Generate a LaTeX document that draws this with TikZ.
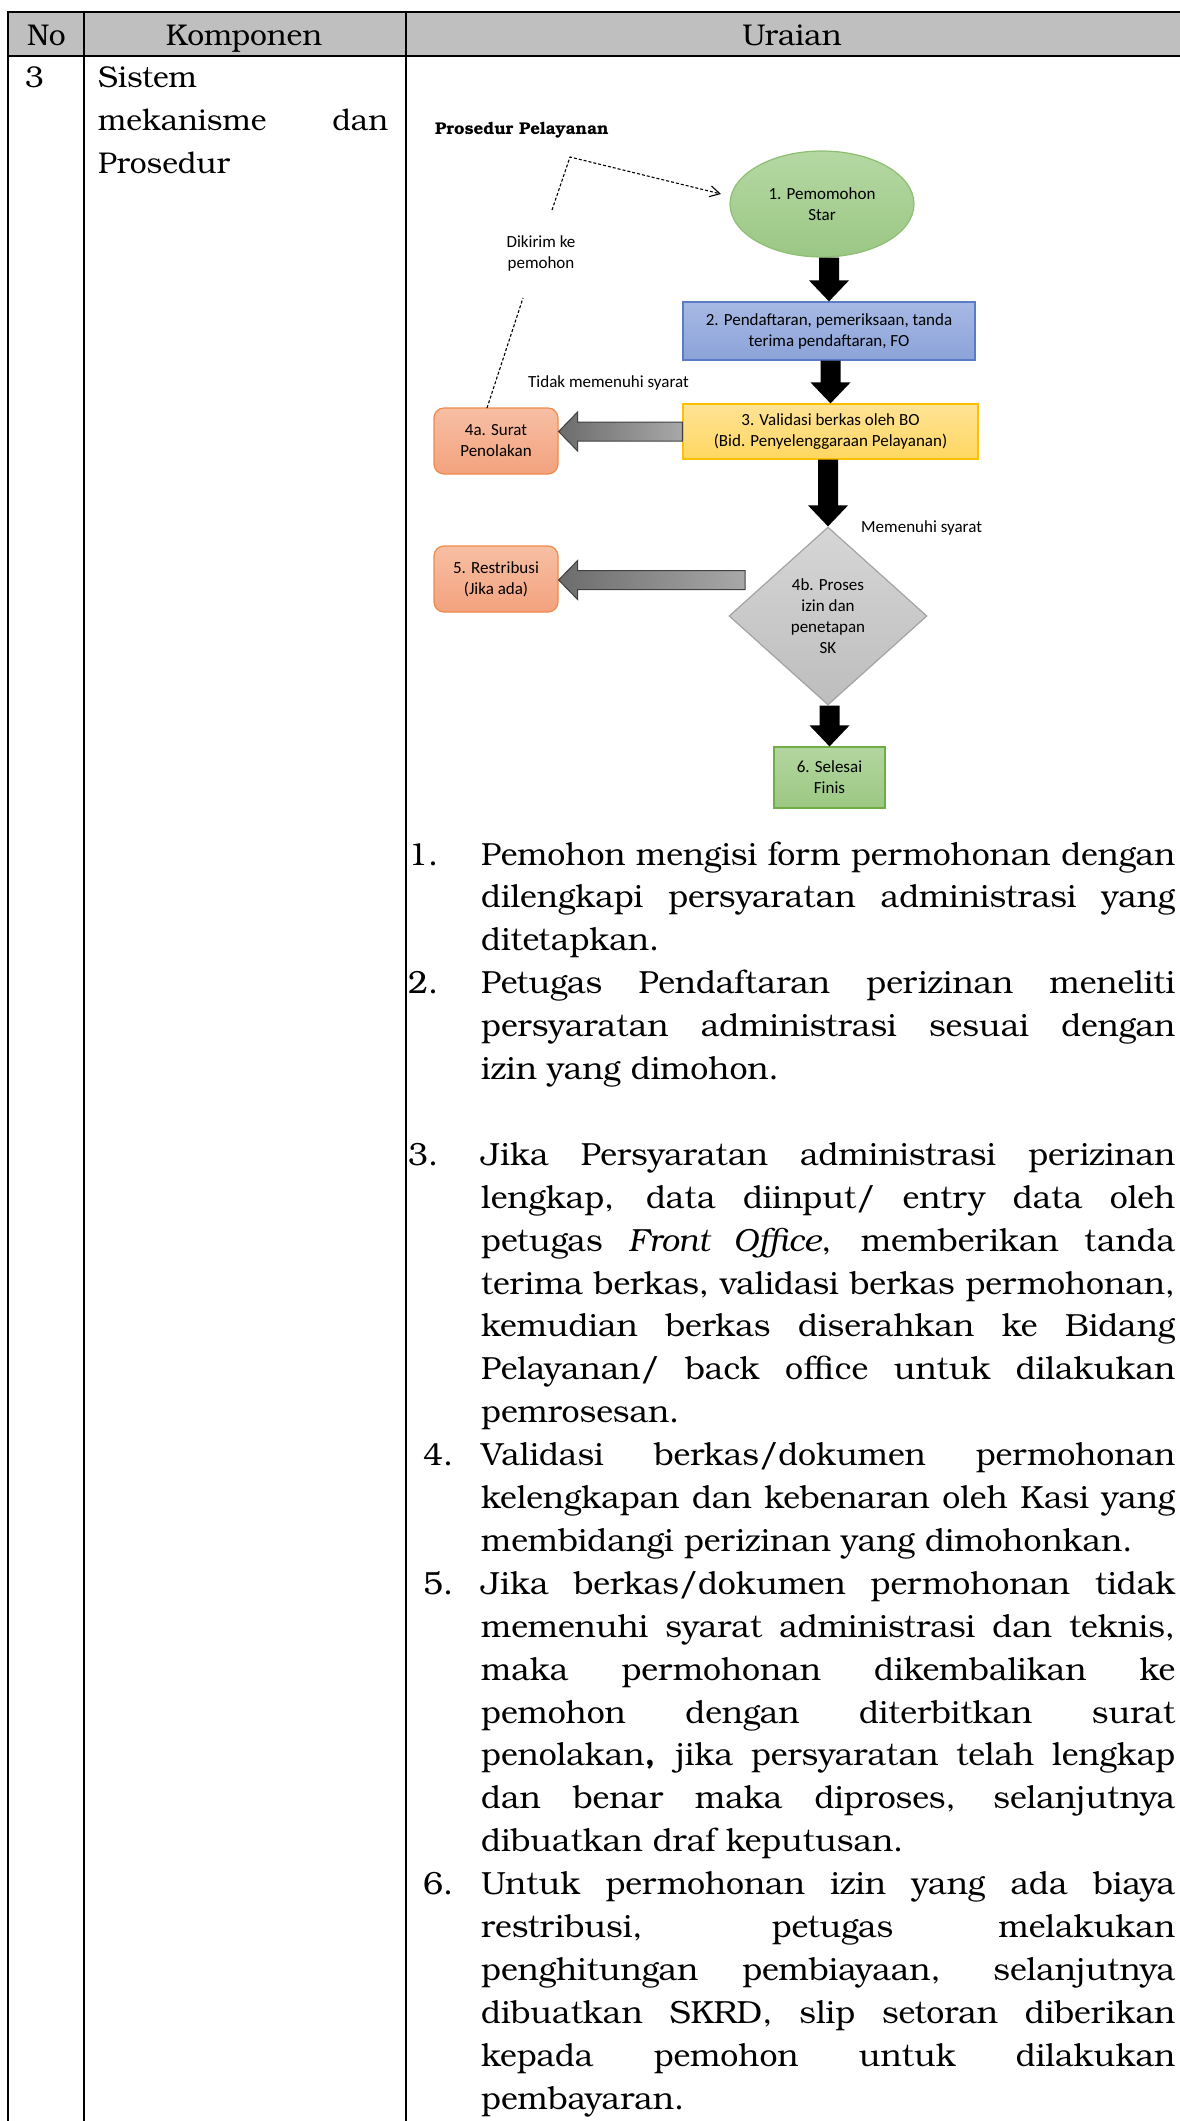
\documentclass[tikz,border=0pt]{standalone}
\usepackage{fontspec}
\usepackage{graphicx}
\usetikzlibrary{shapes.geometric,calc,arrows.meta}
\IfFontExistsTF{texgyrebonum-regular.otf}{%
  \setmainfont{texgyrebonum}[Extension=.otf,UprightFont=*-regular,BoldFont=*-bold,ItalicFont=*-italic,BoldItalicFont=*-bolditalic]}{%
  \setmainfont{Liberation Serif}}
\newfontfamily\dfont{Carlito}
\definecolor{hdr}{HTML}{BFBFBF}
\definecolor{gA}{HTML}{B5D8A3}\definecolor{gB}{HTML}{9BC785}\definecolor{gE}{HTML}{8DBE72}
\definecolor{bA}{HTML}{A7B9E4}\definecolor{bB}{HTML}{8CA3D9}\definecolor{bE}{HTML}{5B7BC8}
\definecolor{yA}{HTML}{FFE396}\definecolor{yB}{HTML}{FFD760}\definecolor{yE}{HTML}{FFC000}
\definecolor{oA}{HTML}{F7BFA4}\definecolor{oB}{HTML}{F3A27E}\definecolor{oE}{HTML}{F08A4B}
\definecolor{sA}{HTML}{D6D6D6}\definecolor{sB}{HTML}{BDBDBD}\definecolor{sE}{HTML}{A3A3A3}
\definecolor{fA}{HTML}{B3D6A0}\definecolor{fB}{HTML}{9CC882}\definecolor{fE}{HTML}{70AD47}
\definecolor{kA}{HTML}{6C6C6C}\definecolor{kB}{HTML}{A8A8A8}\definecolor{kE}{HTML}{404040}
\newlength\jwd
\newcommand\jl[2]{\settowidth\jwd{#2}\ifdim\jwd>#1\relax\resizebox{#1}{\height}{#2}\else\makebox[#1][s]{#2}\fi}
\newcommand\blockdown[2]{\path[blkarrow] let \p1=(#1), \p2=(#2) in
  (\x2-10pt,\y1) -- (\x2+10pt,\y1) -- (\x2+10pt,\y2+21pt) -- (\x2+20pt,\y2+21pt) -- (\x2,\y2)
  -- (\x2-20pt,\y2+21pt) -- (\x2-10pt,\y2+21pt) -- cycle;}
\newcommand\blockleft[2]{\path[grayarrow] let \p1=(#1), \p2=(#2) in
  (\x1,\y1+9.5pt) -- (\x2+19pt,\y1+9.5pt) -- (\x2+19pt,\y1+19.5pt) -- (\x2,\y1)
  -- (\x2+19pt,\y1-19.5pt) -- (\x2+19pt,\y1-9.5pt) -- (\x1,\y1-9.5pt) -- cycle;}
\tikzset{
  tbl/.style={line width=2pt,black},
  hd/.style={inner sep=0,font=\fontsize{30}{40}\selectfont},
  lt/.style={anchor=base west,inner sep=0,font=\fontsize{32}{43}\selectfont},
  dtxt/.style={align=center,inner sep=0,font=\dfont\fontsize{17}{21}\selectfont},
  boxg/.style={dtxt,draw=gE,line width=1.2pt,top color=gA,bottom color=gB},
  boxb/.style={dtxt,draw=bE,line width=1.2pt,top color=bA,bottom color=bB},
  boxy/.style={dtxt,draw=yE,line width=1.2pt,top color=yA,bottom color=yB},
  boxo/.style={dtxt,draw=oE,line width=1.2pt,top color=oA,bottom color=oB,rounded corners=10pt},
  boxs/.style={dtxt,draw=sE,line width=1.2pt,top color=sA,bottom color=sB},
  boxf/.style={dtxt,draw=fE,line width=1.2pt,top color=fA,bottom color=fB},
  blkarrow/.style={fill=black},
  grayarrow/.style={left color=kA,right color=kB,draw=kE,line width=1pt},
  dashline/.style={dash pattern=on 3pt off 2pt,line width=1.1pt,black},
}
\begin{document}
\begin{tikzpicture}[x=1pt,y=-1pt]
\useasboundingbox (0,0) rectangle (1179,2121);
% ---------- table ----------
\fill[hdr] (8,12) rectangle (1185,56);
\draw[tbl] (7,12) -- (1185,12);
\draw[tbl] (7,56) -- (1185,56);
\draw[tbl] (8,11) -- (8,2130);
\draw[tbl] (84,11) -- (84,2130);
\draw[tbl] (406,11) -- (406,2130);
\node[hd,anchor=base west] (hno) at (27,45) {No};
\node[hd,anchor=base] (hkomp) at (244,45) {Komponen};
\node[hd,anchor=base] (hur) at (792,45) {Uraian};
\node[hd,anchor=base west] (rno) at (25,87) {3};
\node[hd,anchor=base west] (r1) at (98,87) {Sistem};
\node[hd,anchor=base west] (r2) at (98,130) {\jl{290pt}{mekanisme dan}};
\node[hd,anchor=base west] (r3) at (98,173) {Prosedur};
% ---------- diagram ----------
\node[anchor=base west,inner sep=0,font=\bfseries\fontsize{17}{20}\selectfont] (ttl) at (435,134) {Prosedur Pelayanan};
\node[boxg,ellipse,minimum width=184pt,minimum height=106pt] (e) at (822,204) {1. Pemomohon\\Star};
\node[boxb,minimum width=292pt,minimum height=58pt] (b2) at (829,331) {2. Pendaftaran, pemeriksaan, tanda\\terima pendaftaran, FO};
\node[boxy,minimum width=295pt,minimum height=55pt] (b3) at (830.5,431.5) {3. Validasi berkas oleh BO\\(Bid. Penyelenggaraan Pelayanan)};
\node[boxo,minimum width=124pt,minimum height=66pt] (b4a) at (496,441) {4a. Surat\\Penolakan};
\node[boxo,minimum width=124pt,minimum height=66pt] (b5) at (496,579) {5. Restribusi\\(Jika ada)};
\node[boxs,diamond,minimum width=198pt,minimum height=178pt] (d) at (828,616) {4b. Proses\\izin dan\\penetapan\\SK};
\node[boxf,minimum width=111pt,minimum height=61pt] (b6) at (829.5,777.5) {6. Selesai\\Finis};
\node[dtxt] (lbl1) at (541,253) {Dikirim ke\\pemohon};
\node[dtxt,anchor=west] (lbl2) at (528,383) {Tidak memenuhi syarat};
\node[dtxt,anchor=west] (lbl3) at (861,528) {Memenuhi syarat};
% black block arrows
\blockdown{e.south}{b2.north}
\blockdown{b2.south}{b3.north}
\blockdown{b3.south}{d.north}
\blockdown{d.south}{b6.north}
% grey block arrows
\coordinate (bs) at (745,580);
\blockleft{b3.west}{b4a.east}
\blockleft{bs}{b5.east}
% dashed return line
\coordinate (dA) at (487,408);
\coordinate (dB) at (523,298);
\coordinate (dC) at (552,210);
\coordinate (dD) at (570,157);
\coordinate (dE) at (721,194);
\draw[dashline] (dA) -- (dB);
\draw[dashline,-{Straight Barb[length=10pt,width=11pt]}] (dC) -- (dD) -- (dE);
% ---------- list ----------
\node[lt] (n1) at (408,865) {1.};
\node[lt] (l0) at (481,865) {\jl{694pt}{Pemohon mengisi form permohonan dengan}};
\node[lt] (l1) at (481,907.9) {\jl{694pt}{dilengkapi persyaratan administrasi yang}};
\node[lt] (l2) at (481,950.8) {ditetapkan.};
\node[lt] (n2) at (408,993.7) {2.};
\node[lt] (l3) at (481,993.7) {\jl{694pt}{Petugas Pendaftaran perizinan meneliti}};
\node[lt] (l4) at (481,1036.6) {\jl{694pt}{persyaratan administrasi sesuai dengan}};
\node[lt] (l5) at (481,1079.5) {izin yang dimohon.};
\node[lt] (n3) at (408,1165.3) {3.};
\node[lt] (l7) at (481,1165.3) {\jl{694pt}{Jika Persyaratan administrasi perizinan}};
\node[lt] (l8) at (481,1208.2) {\jl{694pt}{lengkap, data diinput/ entry data oleh}};
\node[lt] (l9) at (481,1251.1) {\jl{694pt}{petugas \textit{Front Office}, memberikan tanda}};
\node[lt] (l10) at (481,1294) {\jl{694pt}{terima berkas, validasi berkas permohonan,}};
\node[lt] (l11) at (481,1336.9) {\jl{694pt}{kemudian berkas diserahkan ke Bidang}};
\node[lt] (l12) at (481,1379.8) {\jl{694pt}{Pelayanan/ back office untuk dilakukan}};
\node[lt] (l13) at (481,1422.7) {pemrosesan.};
\node[lt] (n4) at (423,1465.6) {4.};
\node[lt] (l14) at (481,1465.6) {\jl{694pt}{Validasi berkas/dokumen permohonan}};
\node[lt] (l15) at (481,1508.5) {\jl{694pt}{kelengkapan dan kebenaran oleh Kasi yang}};
\node[lt] (l16) at (481,1551.4) {membidangi perizinan yang dimohonkan.};
\node[lt] (n5) at (423,1594.3) {5.};
\node[lt] (l17) at (481,1594.3) {\jl{694pt}{Jika berkas/dokumen permohonan tidak}};
\node[lt] (l18) at (481,1637.2) {\jl{694pt}{memenuhi syarat administrasi dan teknis,}};
\node[lt] (l19) at (481,1680.1) {\jl{694pt}{maka permohonan dikembalikan ke}};
\node[lt] (l20) at (481,1723) {\jl{694pt}{pemohon dengan diterbitkan surat}};
\node[lt] (l21) at (481,1765.9) {\jl{694pt}{penolakan\textbf{,} jika persyaratan telah lengkap}};
\node[lt] (l22) at (481,1808.8) {\jl{694pt}{dan benar maka diproses, selanjutnya}};
\node[lt] (l23) at (481,1851.7) {dibuatkan draf keputusan.};
\node[lt] (n6) at (423,1894.6) {6.};
\node[lt] (l24) at (481,1894.6) {\jl{694pt}{Untuk permohonan izin yang ada biaya}};
\node[lt] (l25) at (481,1937.5) {\jl{694pt}{restribusi, petugas melakukan}};
\node[lt] (l26) at (481,1980.4) {\jl{694pt}{penghitungan pembiayaan, selanjutnya}};
\node[lt] (l27) at (481,2023.3) {\jl{694pt}{dibuatkan SKRD, slip setoran diberikan}};
\node[lt] (l28) at (481,2066.2) {\jl{694pt}{kepada pemohon untuk dilakukan}};
\node[lt] (l29) at (481,2109.1) {pembayaran.};
\end{tikzpicture}
\end{document}
